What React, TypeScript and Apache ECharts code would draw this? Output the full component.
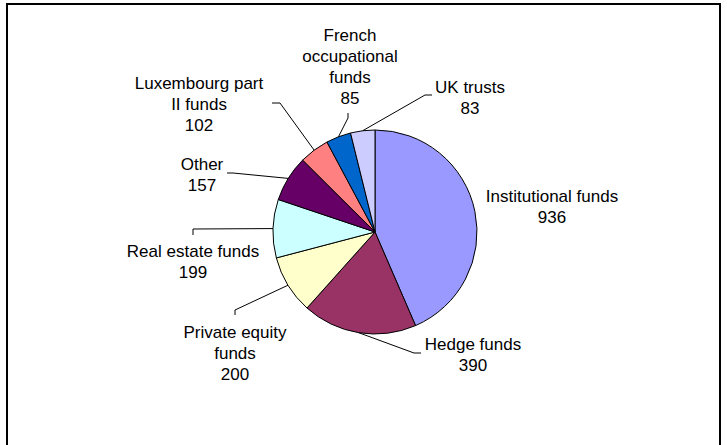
import React, { useEffect, useRef } from "react";
import * as echarts from "echarts";

const categories = [
  "Institutional funds",
  "Hedge funds",
  "Private equity funds",
  "Real estate funds",
  "Other",
  "Luxembourg part II funds",
  "French occupational funds",
  "UK trusts",
];
const labelTexts = [
  "Institutional funds",
  "Hedge funds",
  "Private equity\nfunds",
  "Real estate funds",
  "Other",
  "Luxembourg part\nII funds",
  "French\noccupational\nfunds",
  "UK trusts",
];
const values = [936, 390, 200, 199, 157, 102, 85, 83];
const colors = ["#9999FF", "#993366", "#FFFFCC", "#CCFFFF", "#660066", "#FF8080", "#0066CC", "#CCCCFF"];

// layout constants (label block centre-x / top-y, leader elbow & end)
const CX = 375;
const CY = 232;
const R = 102;
const LINE_H = 21;
const labelPos: number[][] = [
  [552, 185.5],
  [473, 333.5],
  [235, 321.5],
  [193, 240.5],
  [202, 153.5],
  [199, 72.5],
  [350, 24.5],
  [470, 76.5],
];
const leaderTail: (number[][] | null)[] = [
  null,
  [[414, 353], [421, 353]],
  [[235, 310], [235, 315]],
  [[193, 229], [193, 235]],
  [[233, 173], [227, 173]],
  [[280, 103], [272, 103]],
  [[348, 118], [348, 113]],
  [[425, 95], [432, 95]],
];

export default function App() {
  const ref = useRef<HTMLDivElement>(null);
  useEffect(() => {
    if (!ref.current) return;
    const chart = echarts.init(ref.current, null, { renderer: "svg" });
    const total = values.reduce((a, b) => a + b, 0);
    let cum = 0;
    const leaders: any[] = [];
    values.forEach((v, i) => {
      const mid = ((cum + v / 2) / total) * Math.PI * 2;
      cum += v;
      const tail = leaderTail[i];
      if (!tail) return;
      const ex = CX + R * Math.sin(mid);
      const ey = CY - R * Math.cos(mid);
      leaders.push({
        type: "polyline",
        silent: true,
        z: 10,
        shape: { points: [[ex, ey], ...tail] },
        style: { stroke: "#000", lineWidth: 1, fill: null },
      });
    });
    chart.setOption({
      animation: false,
      backgroundColor: "#fff",
      color: colors,
      graphic: [
        {
          type: "rect",
          silent: true,
          shape: { x: 7, y: 4, width: 713, height: 470 },
          style: { stroke: "#000", lineWidth: 2, fill: null },
        },
        ...leaders,
      ],
      series: [
        {
          type: "pie",
          center: [CX, CY],
          radius: R,
          startAngle: 90,
          clockwise: true,
          avoidLabelOverlap: false,
          minShowLabelAngle: 0,
          emphasis: { disabled: true },
          itemStyle: { borderColor: "#000", borderWidth: 1 },
          label: {
            show: true,
            position: "outside",
            color: "#000",
            fontSize: 17,
            lineHeight: LINE_H,
            fontFamily: "'Liberation Sans', Arial, sans-serif",
            formatter: (p: any) => labelTexts[p.dataIndex] + "\n" + p.value,
          },
          labelLine: { show: false },
          labelLayout: (p: any) => ({
            x: labelPos[p.dataIndex][0],
            y: labelPos[p.dataIndex][1],
            align: "center",
            verticalAlign: "top",
          }),
          data: categories.map((c, i) => ({ name: c, value: values[i] })),
        },
      ],
    });
    return () => chart.dispose();
  }, []);
  return (
    <div
      ref={ref}
      style={{ position: "absolute", left: 0, top: 0, width: 727, height: 445, background: "#fff" }}
    />
  );
}
